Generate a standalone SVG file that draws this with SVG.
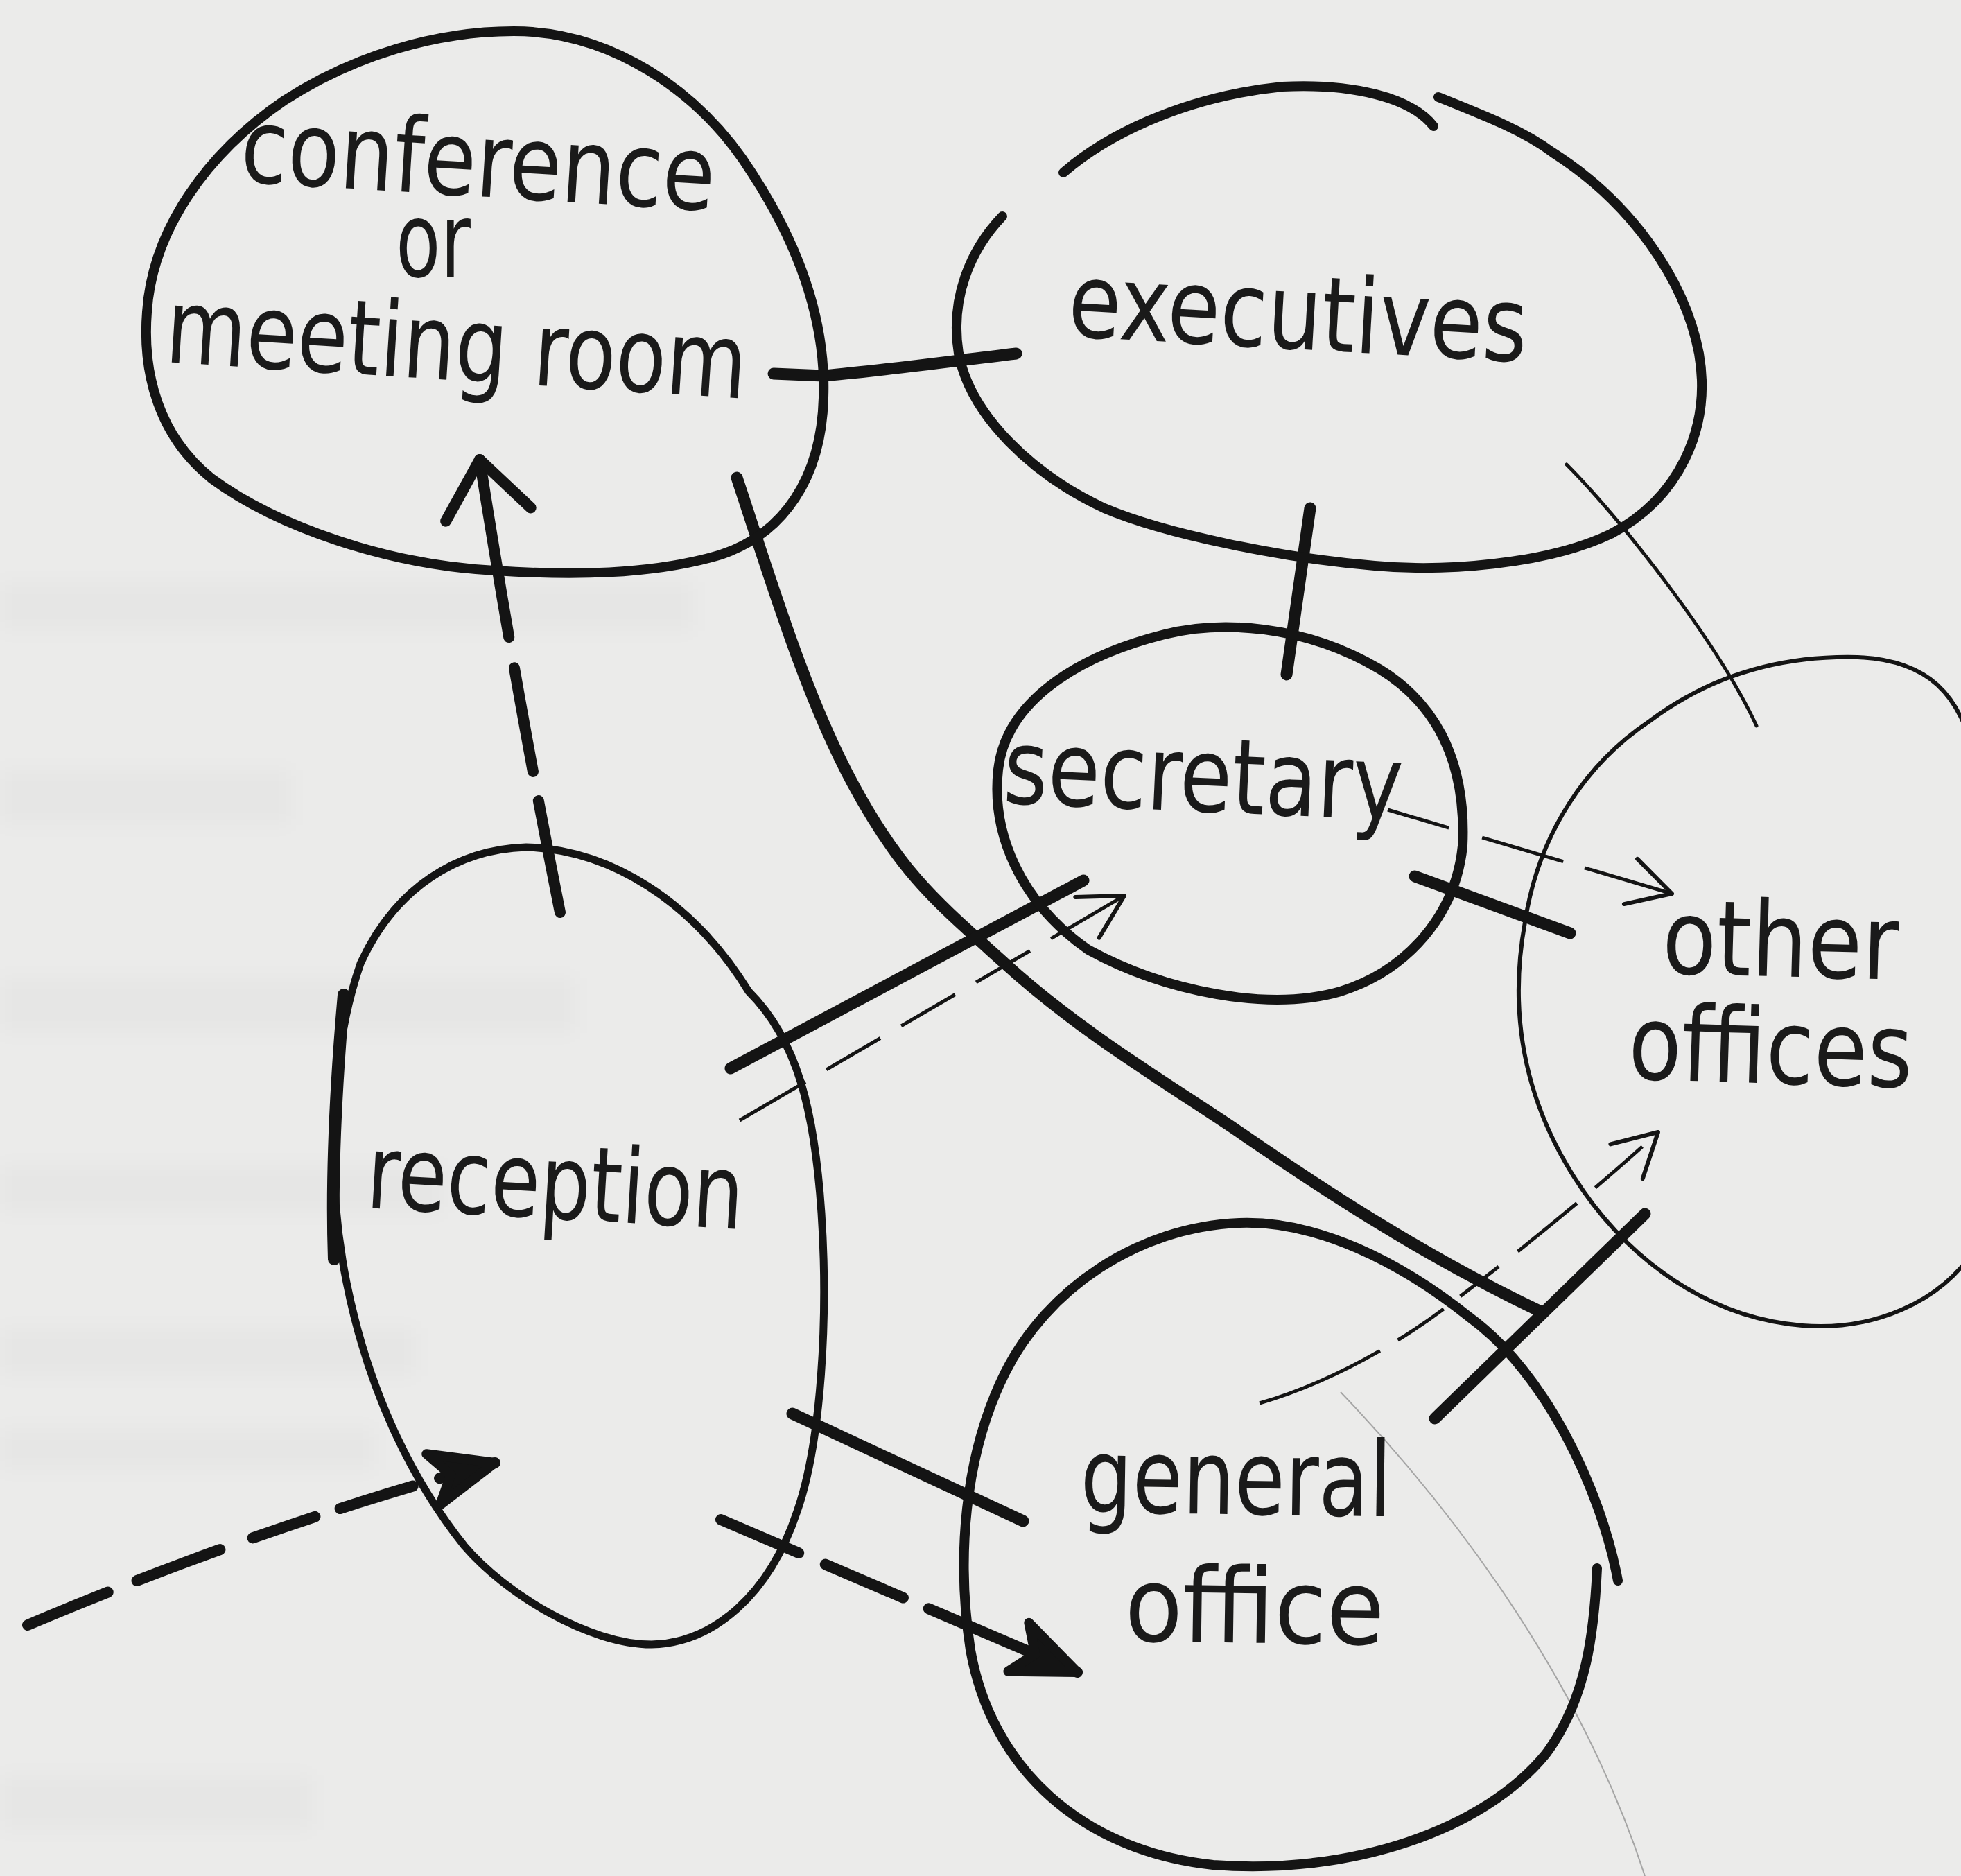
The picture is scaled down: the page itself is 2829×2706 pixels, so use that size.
<svg xmlns="http://www.w3.org/2000/svg" width="2829" height="2706" viewBox="0 0 2829 2706">
<style>
.blob{fill:none;stroke:#141414;stroke-width:14;stroke-linecap:round;stroke-linejoin:round}
.blobthin{fill:none;stroke:#141414;stroke-width:6;stroke-linecap:round}
.thick{fill:none;stroke:#141414;stroke-width:17;stroke-linecap:round;stroke-linejoin:round}
.thin{fill:none;stroke:#141414;stroke-width:5;stroke-linecap:round}
.dthin{fill:none;stroke:#141414;stroke-width:5;stroke-linecap:butt}
.dthick{fill:none;stroke:#141414;stroke-width:16;stroke-linecap:round}
.lbl{font-family:"DejaVu Sans Condensed","DejaVu Sans","Liberation Sans",sans-serif;font-size:150px;fill:#1a1a1a}
.ghost{fill:#000;opacity:0.02}
</style>
<defs>
<filter id="blur" x="-10%" y="-50%" width="120%" height="200%"><feGaussianBlur stdDeviation="14"/></filter>
<marker id="arrowThin" markerUnits="userSpaceOnUse" orient="auto" refX="0" refY="0" markerWidth="200" markerHeight="200" viewBox="-100 -100 200 200" overflow="visible">
<path d="M -62,-34 L 0,0 L -62,34" fill="none" stroke="#141414" stroke-width="6" stroke-linecap="round" stroke-linejoin="round"/>
</marker>
<marker id="arrowThick" markerUnits="userSpaceOnUse" orient="auto" refX="0" refY="0" markerWidth="240" markerHeight="240" viewBox="-120 -120 240 240" overflow="visible">
<path d="M -80,-62 L 0,0 L -80,62" fill="none" stroke="#141414" stroke-width="16" stroke-linecap="round" stroke-linejoin="round"/>
</marker>
<marker id="arrowFill" markerUnits="userSpaceOnUse" orient="auto" refX="0" refY="0" markerWidth="240" markerHeight="240" viewBox="-120 -120 240 240" overflow="visible">
<path d="M 0,0 L -92,-38 L -66,0 L -92,38 Z" fill="#141414" stroke="#141414" stroke-width="14" stroke-linejoin="round"/>
</marker>
</defs>
<rect width="2829" height="2706" fill="#ebebea"/>
<g id="bleed" filter="url(#blur)">
<rect class="ghost" x="0" y="840" width="1000" height="70"/>
<rect class="ghost" x="0" y="1110" width="420" height="80"/>
<rect class="ghost" x="0" y="1410" width="830" height="80"/>
<rect class="ghost" x="0" y="1680" width="640" height="70"/>
<rect class="ghost" x="0" y="1915" width="600" height="70"/>
<rect class="ghost" x="0" y="2060" width="540" height="60"/>
<rect class="ghost" x="0" y="2560" width="450" height="80"/>
</g>
<g id="crease"><path d="M 1934,2008 C 2080,2160 2275,2405 2373,2706" fill="none" stroke="#777" stroke-width="2" opacity="0.6"/></g>

<g id="connectors">
<path class="thick" d="M 1116,539 L 1188,542 C 1270,535 1380,520 1466,510"/>
<path class="thick" d="M 1890,733 L 1856,973"/>
<path class="thin" d="M 2260,670 C 2340,750 2480,930 2534,1047"/>
<path class="dthin" d="M 2002,1168 L 2412,1289" stroke-dasharray="92 50 122 32 400" marker-end="url(#arrowThin)"/>
<path class="thick" d="M 2041,1264 L 2265,1346"/>
<path class="thick" d="M 1063,689 C 1110,830 1160,1000 1230,1130 S 1350,1300 1450,1390 C 1560,1490 1680,1560 1788,1633 C 1900,1710 2050,1810 2225,1893"/>
<path class="thick" d="M 2070,2046 L 2373,1751"/>
<path class="dthin" d="M 1817,2024 C 1900,2000 2000,1950 2080,1890 C 2200,1800 2320,1700 2392,1633" stroke-dasharray="190 30 80 30 70 35 110 35 90 30 400" marker-end="url(#arrowThin)"/>
<path class="dthick" d="M 808,1316 Q 745,1000 692,663" stroke-dasharray="164 43 152 45 500" marker-end="url(#arrowThick)"/>
<path class="dthick" d="M 40,2344 Q 380,2200 714,2110" stroke-dasharray="125 45 128 50 95 38 110 40 300" marker-end="url(#arrowFill)"/>
<path class="thick" d="M 1054,1541 L 1563,1270"/>
<path class="dthin" d="M 1067,1616 L 1622,1292" stroke-dasharray="110 35 90 35 90 35 90 35 300" marker-end="url(#arrowThin)"/>
<path class="thick" d="M 1143,2039 L 1476,2194"/>
<path class="dthick" d="M 1040,2192 L 1554,2412" stroke-dasharray="122 42 122 40 400" marker-end="url(#arrowFill)"/>
</g>

<g id="conference">
<path class="blob" d="M 741,45 C 880,45 1010,130 1085,250 C 1150,350 1192,460 1188,574 C 1185,690 1130,770 1040,800 C 940,830 820,830 714,823 C 560,815 400,760 305,690 C 230,630 205,540 212,450 C 220,330 300,220 410,145 C 510,80 630,45 741,45 Z"/>
<text class="lbl" x="345" y="262" textLength="685" lengthAdjust="spacingAndGlyphs" transform="rotate(3.5 345 262)">conference</text>
<text class="lbl" x="571" y="399" textLength="108" lengthAdjust="spacingAndGlyphs">or</text>
<text class="lbl" x="237" y="522" textLength="839" lengthAdjust="spacingAndGlyphs" transform="rotate(3.6 237 522)">meeting room</text>
</g>

<g id="executives">
<path class="blob" d="M 1534,249 C 1590,200 1700,140 1850,125 C 1950,120 2035,140 2068,182"/>
<path class="blob" d="M 2075,140 C 2150,170 2200,190 2240,220 C 2350,290 2430,400 2451,510 C 2470,620 2420,720 2324,770 C 2230,815 2080,825 1983,816 C 1850,805 1680,770 1593,733 C 1490,685 1400,600 1383,510 C 1370,430 1400,360 1446,312"/>
<text class="lbl" x="1539" y="485" textLength="663" lengthAdjust="spacingAndGlyphs" transform="rotate(3.2 1539 485)">executives</text>
</g>

<g id="secretary">
<path class="blob" d="M 1680,915 C 1760,895 1880,900 1990,965 C 2080,1020 2115,1110 2110,1220 C 2100,1320 2030,1400 1934,1430 C 1830,1460 1680,1430 1570,1370 C 1470,1300 1430,1200 1440,1110 C 1450,1020 1540,950 1680,915 Z"/>
<text class="lbl" x="1446" y="1158" textLength="576" lengthAdjust="spacingAndGlyphs" transform="rotate(2.5 1446 1158)">secretary</text>
</g>

<g id="other-offices">
<path class="blobthin" d="M 2200,1330 C 2220,1200 2290,1100 2380,1040 C 2460,980 2560,945 2680,948 C 2780,952 2830,1000 2850,1100 L 2850,1800 C 2800,1880 2700,1920 2600,1912 C 2450,1900 2330,1800 2260,1680 C 2190,1560 2180,1440 2200,1330 Z"/>
<text class="lbl" x="2397" y="1404" textLength="341" lengthAdjust="spacingAndGlyphs" transform="rotate(1.5 2397 1404)">other</text>
<text class="lbl" x="2348" y="1556" textLength="410" lengthAdjust="spacingAndGlyphs" transform="rotate(1.8 2348 1556)">offices</text>
</g>

<g id="reception">
<path class="blob" d="M 759,1222 C 880,1225 1000,1300 1080,1430 C 1150,1500 1175,1600 1185,1750 C 1195,1900 1185,2080 1150,2180 C 1110,2300 1030,2370 940,2372 C 850,2372 730,2300 670,2230 C 590,2130 530,2000 500,1850 C 470,1700 475,1520 520,1390 C 570,1280 660,1225 759,1222 Z" style="stroke-width:11"/>
<path class="blob" d="M 496,1435 C 485,1560 478,1700 482,1816" style="stroke-width:18"/>
<text class="lbl" x="527" y="1742" textLength="544" lengthAdjust="spacingAndGlyphs" transform="rotate(3.3 527 1742)">reception</text>
</g>

<g id="general-office">
<path class="blob" d="M 2334,2280 C 2310,2150 2230,1980 2120,1900 C 2020,1820 1900,1760 1788,1764 C 1640,1770 1510,1860 1450,1980 C 1390,2100 1380,2250 1400,2380 C 1430,2550 1560,2670 1750,2690 C 1950,2705 2140,2640 2230,2530 C 2290,2450 2300,2350 2304,2262"/>
<text class="lbl" x="1558" y="2181" textLength="449" lengthAdjust="spacingAndGlyphs" transform="rotate(0.8 1558 2181)">general</text>
<text class="lbl" x="1622" y="2367" textLength="375" lengthAdjust="spacingAndGlyphs" transform="rotate(0.8 1622 2367)">office</text>
</g>
</svg>
